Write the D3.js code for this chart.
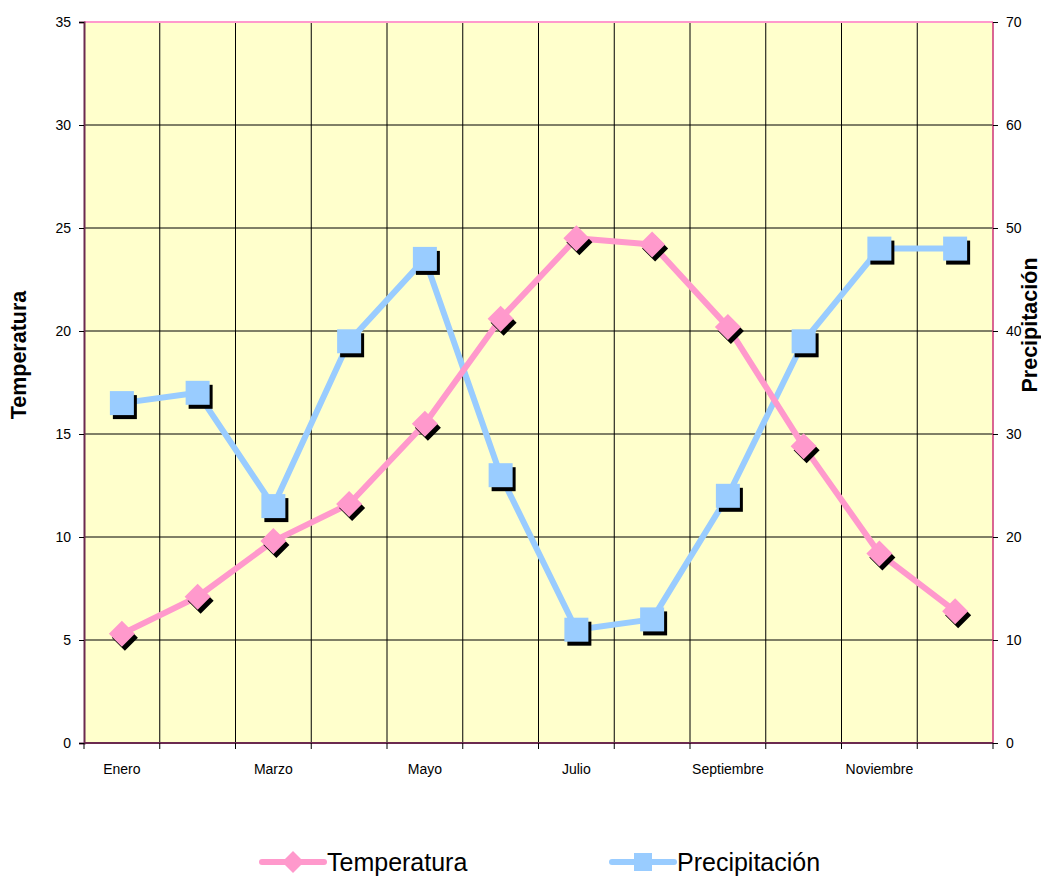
<!DOCTYPE html>
<html><head><meta charset="utf-8">
<script src="https://cdn.jsdelivr.net/npm/d3@7"></script>
<style>body{margin:0;background:#fff;} text{font-family:"Liberation Sans",Arial,sans-serif;}</style>
</head><body>
<svg id="c" width="1041" height="877"></svg>
<script>
const months = ["Enero","Febrero","Marzo","Abril","Mayo","Junio","Julio","Agosto","Septiembre","Octubre","Noviembre","Diciembre"];
const tempValues = [5.3, 7.1, 9.8, 11.6, 15.5, 20.6, 24.5, 24.2, 20.2, 14.4, 9.2, 6.4];
const precValues = [33, 34, 23, 39, 47, 26, 11, 12, 24, 39, 48, 48];
const leftTicks = [0,5,10,15,20,25,30,35];
const rightTicks = [0,10,20,30,40,50,60,70];
const shownLabels = ["Enero","Marzo","Mayo","Julio","Septiembre","Noviembre"];

const svg = d3.select("#c");
const L=84, R=993, T=22, B=743;
const x = d3.scaleBand().domain(months).range([L,R]);
const yL = d3.scaleLinear().domain([0,35]).range([B,T]);
const yR = d3.scaleLinear().domain([0,70]).range([B,T]);
const cx = m => x(m)+x.bandwidth()/2;

svg.append("rect").attr("x",L).attr("y",T).attr("width",R-L).attr("height",B-T).attr("fill","#FFFFCC");

// horizontal grid
svg.append("g").selectAll("line").data(leftTicks.slice(1)).join("line")
  .attr("x1",L).attr("x2",R).attr("y1",d=>yL(d)).attr("y2",d=>yL(d))
  .attr("stroke","#000").attr("stroke-width",1);
// vertical grid at band boundaries
svg.append("g").selectAll("line").data(months.slice(1)).join("line")
  .attr("x1",d=>x(d)).attr("x2",d=>x(d)).attr("y1",T).attr("y2",B)
  .attr("stroke","#000").attr("stroke-width",1);
// borders
svg.append("line").attr("x1",L).attr("x2",R).attr("y1",T).attr("y2",T).attr("stroke","#FF99CC").attr("stroke-width",2);
svg.append("line").attr("x1",R).attr("x2",R).attr("y1",T).attr("y2",B).attr("stroke","#CC3377").attr("stroke-width",1.5);

// left axis
const gl = svg.append("g").attr("transform",`translate(${L},0)`)
  .call(d3.axisLeft(yL).tickValues(leftTicks).tickSize(5).tickPadding(8));
gl.select(".domain").attr("stroke","#6B2A4F").attr("stroke-width",2);
gl.selectAll("text").attr("font-size",14).attr("fill","#000");
// right axis
const gr = svg.append("g").attr("transform",`translate(${R},0)`)
  .call(d3.axisRight(yR).tickValues(rightTicks).tickSize(5).tickPadding(8));
gr.select(".domain").remove();
gr.selectAll("text").attr("font-size",14).attr("fill","#000");
// bottom axis
const gb = svg.append("g").attr("transform",`translate(0,${B})`);
gb.append("line").attr("x1",L).attr("x2",R).attr("stroke","#6B2A4F").attr("stroke-width",2);
gb.selectAll("line.tk").data(months.concat(["__end"])).join("line").attr("class","tk")
  .attr("x1",d=>d==="__end"?R:x(d)).attr("x2",d=>d==="__end"?R:x(d)).attr("y1",0).attr("y2",6)
  .attr("stroke","#000");
gb.selectAll("text").data(shownLabels).join("text")
  .attr("x",d=>cx(d)).attr("y",31).attr("text-anchor","middle").attr("font-size",14).attr("fill","#000").text(d=>d);

// axis titles
svg.append("text").attr("transform","translate(26,355) rotate(-90)").attr("text-anchor","middle")
  .attr("font-size",21.5).attr("font-weight","bold").text("Temperatura");
svg.append("text").attr("transform","translate(1037,325) rotate(-90)").attr("text-anchor","middle")
  .attr("font-size",21.5).attr("font-weight","bold").text("Precipitación");

const pink="#FF99CC", blue="#99CCFF";
const diamond = (s)=>`M0,${-s}L${s},0L0,${s}L${-s},0Z`;
const square = (s)=>`M${-s},${-s}H${s}V${s}H${-s}Z`;

function series(vals, y, color, shape){
  const line = d3.line().x((d,i)=>cx(months[i])).y(d=>y(d));
  const g = svg.append("g");
  g.append("path").datum(vals).attr("d",line).attr("fill","none").attr("stroke",color)
    .attr("stroke-width",6).attr("stroke-linejoin","round");
  g.selectAll("path.sh").data(vals).join("path").attr("class","sh")
    .attr("transform",(d,i)=>`translate(${cx(months[i])+3},${y(d)+4})`).attr("d",shape).attr("fill","#000");
  g.selectAll("path.mk").data(vals).join("path").attr("class","mk")
    .attr("transform",(d,i)=>`translate(${cx(months[i])},${y(d)})`).attr("d",shape).attr("fill",color);
}
series(precValues, yR, blue, square(12));
series(tempValues, yL, pink, diamond(13));

// legend
const lg = svg.append("g");
const items = [{name:"Temperatura",color:pink,shape:diamond(11),x0:262},{name:"Precipitación",color:blue,shape:square(9),x0:612}];
items.forEach(it=>{
  lg.append("line").attr("x1",it.x0).attr("x2",it.x0+62).attr("y1",862).attr("y2",862)
    .attr("stroke",it.color).attr("stroke-width",6).attr("stroke-linecap","round");
  lg.append("path").attr("transform",`translate(${it.x0+31},862)`).attr("d",it.shape).attr("fill",it.color);
  lg.append("text").attr("x",it.x0+65).attr("y",871).attr("font-size",25).attr("fill","#000").text(it.name);
});
</script>
</body></html>
